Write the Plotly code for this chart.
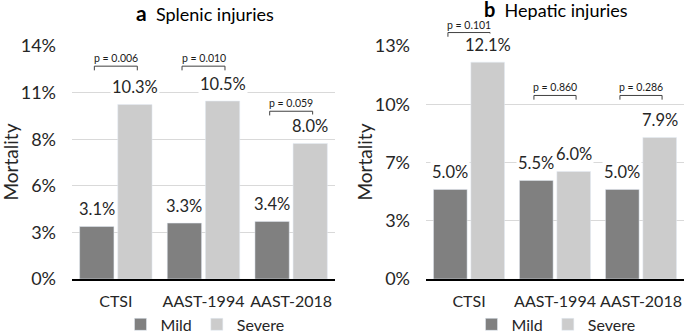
import plotly.graph_objects as go

categories = ["CTSI", "AAST-1994", "AAST-2018"]
splenic_mild = [3.1, 3.3, 3.4]
splenic_severe = [10.3, 10.5, 8.0]
hepatic_mild = [5.0, 5.5, 5.0]
hepatic_severe = [12.1, 6.0, 7.9]
splenic_p = ["p = 0.006", "p = 0.010", "p = 0.059"]
hepatic_p = ["p = 0.101", "p = 0.860", "p = 0.286"]
splenic_ticks = [0, 2.75, 5.5, 8.25, 11, 13.75]
splenic_ticktext = ["0%", "3%", "6%", "8%", "11%", "14%"]
hepatic_ticks = [0, 3.25, 6.5, 9.75, 13]
hepatic_ticktext = ["0%", "3%", "7%", "10%", "13%"]

# bracket heights (in % units) for the p-value annotations
splenic_bracket = [12.56, 12.56, 9.9]
hepatic_bracket = [13.75, 10.24, 10.24]

FONT = "Lato"
MILD = "#808080"
SEVERE = "#cccccc"
TXT = "#262626"
BARGAP = 0.13
BGG = 0.10
SLOT = (1 - BARGAP) / 2

fig = go.Figure()
fig.add_trace(go.Bar(x=categories, y=splenic_mild, name="Mild", marker_color=MILD,
                     xaxis="x", yaxis="y", legend="legend"))
fig.add_trace(go.Bar(x=categories, y=splenic_severe, name="Severe", marker_color=SEVERE,
                     xaxis="x", yaxis="y", legend="legend"))
fig.add_trace(go.Bar(x=categories, y=hepatic_mild, name="Mild", marker_color=MILD,
                     xaxis="x2", yaxis="y2", legend="legend2"))
fig.add_trace(go.Bar(x=categories, y=hepatic_severe, name="Severe", marker_color=SEVERE,
                     xaxis="x2", yaxis="y2", legend="legend2"))

annotations = []
shapes = []
n = len(categories)


def add_panel(xr, yr, mild, severe, pvals, brackets, ymax):
    for i in range(n):
        for val, off in ((mild[i], -SLOT / 2), (severe[i], SLOT / 2)):
            annotations.append(dict(
                x=i + off, y=val, xref=xr, yref=yr, text=f"{val:.1f}%",
                showarrow=False, yshift=17, xanchor="center", yanchor="middle",
                bgcolor="white", font=dict(family=FONT, size=16.5, color=TXT)))
        yd = brackets[i] / ymax
        half = 0.245
        x0 = (i + 0.5 - half) / n
        x1 = (i + 0.5 + half) / n
        dr = yr + " domain"
        xd = xr + " domain"
        line = dict(color="#404040", width=1)
        shapes.append(dict(type="line", xref=xd, yref=dr, x0=x0, x1=x1, y0=yd, y1=yd, line=line))
        shapes.append(dict(type="line", xref=xd, yref=dr, x0=x0, x1=x0, y0=yd, y1=yd - 0.018, line=line))
        shapes.append(dict(type="line", xref=xd, yref=dr, x0=x1, x1=x1, y0=yd, y1=yd - 0.018, line=line))
        annotations.append(dict(
            x=(i + 0.5) / n, y=yd, xref=xd, yref=dr, text=pvals[i], showarrow=False,
            yshift=8, xanchor="center", yanchor="middle",
            font=dict(family=FONT, size=10.5, color="#1a1a1a")))


add_panel("x", "y", splenic_mild, splenic_severe, splenic_p, splenic_bracket, splenic_ticks[-1])
add_panel("x2", "y2", hepatic_mild, hepatic_severe, hepatic_p, hepatic_bracket, hepatic_ticks[-1])

W, H = 685, 333
# panel titles
annotations.append(dict(x=205 / W, y=1, xref="paper", yref="paper", yshift=34,
                        text="<b><span style='font-size:21px'>a</span></b>  Splenic injuries",
                        showarrow=False, xanchor="center", yanchor="middle",
                        font=dict(family=FONT, size=18, color="#000000")))
annotations.append(dict(x=556 / W, y=1, xref="paper", yref="paper", yshift=37,
                        text="<b><span style='font-size:20px'>b</span></b>  Hepatic injuries",
                        showarrow=False, xanchor="center", yanchor="middle",
                        font=dict(family=FONT, size=18, color="#000000")))
# y-axis titles
for xc in (10, 364):
    annotations.append(dict(x=xc / W, y=0.5, xref="paper", yref="paper", text="Mortality",
                            textangle=-90, showarrow=False, xanchor="center", yanchor="middle",
                            font=dict(family=FONT, size=19, color=TXT)))

axis_common = dict(showgrid=False, showline=True, linecolor="#000000", linewidth=2,
                   tickfont=dict(family=FONT, size=16, color=TXT), ticks="",
                   ticklabelstandoff=7, automargin=False)
yaxis_common = dict(showgrid=True, gridcolor="#d9d9d9", gridwidth=1, zeroline=False,
                    showline=False, tickfont=dict(family=FONT, size=18, color=TXT),
                    ticklabelstandoff=15, automargin=False)

legend_common = dict(orientation="h", xanchor="center", y=-0.195, yanchor="middle",
                     font=dict(family=FONT, size=16, color=TXT), itemwidth=30,
                     bgcolor="rgba(0,0,0,0)")

fig.update_layout(
    width=W, height=H,
    margin=dict(l=0, r=0, t=46, b=54, autoexpand=False),
    paper_bgcolor="white", plot_bgcolor="white",
    barmode="group", bargap=BARGAP, bargroupgap=BGG,
    xaxis=dict(domain=[72 / W, 335 / W], anchor="y", **axis_common),
    xaxis2=dict(domain=[426 / W, 684 / W], anchor="y2", **axis_common),
    yaxis=dict(range=[0, splenic_ticks[-1]], tickvals=splenic_ticks, ticktext=splenic_ticktext,
               anchor="x", **yaxis_common),
    yaxis2=dict(range=[0, hepatic_ticks[-1]], tickvals=hepatic_ticks, ticktext=hepatic_ticktext,
                anchor="x2", **yaxis_common),
    legend=dict(x=205 / W, **legend_common),
    legend2=dict(x=556 / W, **legend_common),
    annotations=annotations,
    shapes=shapes,
)

fig.write_html(
    "out.html",
    config={"displayModeBar": False},
    post_script="document.body.style.margin='0';document.body.style.overflow='hidden';",
)
